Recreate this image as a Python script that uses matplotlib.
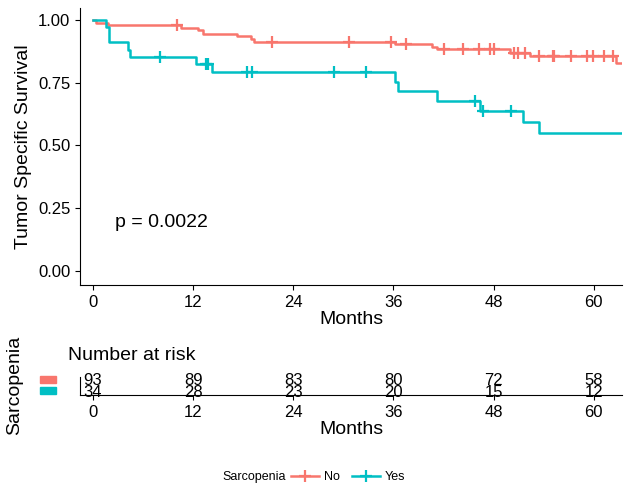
import matplotlib
matplotlib.use("Agg")
import matplotlib.pyplot as plt
from matplotlib.lines import Line2D

plt.rcParams["font.family"] = ["Liberation Sans", "DejaVu Sans"]

RED = "#F8766D"
BLUE = "#00BFC4"

# step curves (time of step, survival after step)
no_t = [0, 0.4, 1.75, 10.5, 12.6, 13.2, 17.3, 18.9, 19.3, 36.2, 40.6, 41.2, 50.0, 52.4, 62.7]
no_s = [1.0, 0.99, 0.98, 0.97, 0.96, 0.944, 0.936, 0.926, 0.913, 0.903, 0.894, 0.883, 0.868, 0.855, 0.83]
no_cens_t = [10.1, 21.5, 30.7, 35.7, 37.5, 42.1, 44.3, 46.3, 47.6, 48.0, 50.4, 50.9, 51.8,
             53.5, 55.1, 55.3, 57.3, 59.2, 59.9, 61.2, 62.3]

yes_t = [0, 1.5, 1.97, 4.2, 4.4, 12.4, 14.25, 36.2, 36.6, 41.2, 46.4, 51.5, 53.4]
yes_s = [1.0, 0.971, 0.912, 0.882, 0.853, 0.826, 0.794, 0.754, 0.717, 0.677, 0.637, 0.595, 0.551]
yes_cens_t = [8.0, 13.6, 13.8, 18.4, 19.1, 28.9, 32.7, 45.8, 46.7, 50.1]
t_end = 63.4

risk_times = [0, 12, 24, 36, 48, 60]
risk_no = [93, 89, 83, 80, 72, 58]
risk_yes = [34, 28, 23, 20, 15, 12]


def surv_at(ts, ss, x):
    v = ss[0]
    for t, s in zip(ts, ss):
        if t <= x:
            v = s
    return v


fig = plt.figure(figsize=(6.28, 5.0), dpi=100)
ax = fig.add_axes([80 / 628, 1 - 285 / 500, 542 / 628, 277 / 500])

for ts, ss, cens, col in [(no_t, no_s, no_cens_t, RED), (yes_t, yes_s, yes_cens_t, BLUE)]:
    ax.step(ts + [t_end], ss + [ss[-1]], where="post", color=col, lw=1.8)
    ax.plot(cens, [surv_at(ts, ss, c) for c in cens], "+", color=col, ms=9, mew=1.6)

ax.set_xlim(-1.56, 63.4)
ax.set_ylim(-0.056, 1.048)
ax.set_xticks(risk_times)
ax.set_yticks([0, 0.25, 0.5, 0.75, 1.0])
ax.set_yticklabels(["0.00", "0.25", "0.50", "0.75", "1.00"])
for s in ["top", "right"]:
    ax.spines[s].set_visible(False)
ax.tick_params(labelsize=12, colors="black")
ax.set_xlabel("Months", fontsize=14, labelpad=1)
ax.set_ylabel("Tumor Specific Survival", fontsize=14)
ax.text(2.6, 0.195, "p = 0.0022", fontsize=14, va="center")

# risk table
rt = fig.add_axes([80 / 628, 1 - 395 / 500, 542 / 628, 18 / 500])
rt.set_xlim(-1.56, 63.4)
rt.set_ylim(0, 1)
for t, a, b in zip(risk_times, risk_no, risk_yes):
    rt.text(t, 0.80, str(a), ha="center", va="center", fontsize=12)
    rt.text(t, 0.15, str(b), ha="center", va="center", fontsize=12)
rt.set_yticks([])
rt.set_xticks(risk_times)
for s in ["top", "right"]:
    rt.spines[s].set_visible(False)
rt.tick_params(labelsize=12, colors="black")
rt.set_xlabel("Months", fontsize=14, labelpad=1)
fig.text(68 / 628, 1 - 355 / 500, "Number at risk", fontsize=14, va="center")
fig.text(15 / 628, 1 - 385 / 500, "Sarcopenia", rotation=90, fontsize=14, va="center", ha="center")
fig.patches.append(plt.Rectangle((40 / 628, 1 - 383 / 500), 16 / 628, 7 / 500,
                                 transform=fig.transFigure, color=RED))
fig.patches.append(plt.Rectangle((40 / 628, 1 - 394 / 500), 16 / 628, 7 / 500,
                                 transform=fig.transFigure, color=BLUE))

handles = [Line2D([], [], color=RED, marker="+", ms=9, mew=1.6, lw=1.8),
           Line2D([], [], color=BLUE, marker="+", ms=9, mew=1.6, lw=1.8)]
fig.text(222 / 628, 1 - 477 / 500, "Sarcopenia", fontsize=9, va="center")
fig.legend(handles, ["No", "Yes"], loc="center left", bbox_to_anchor=(280 / 628, 1 - 477 / 500),
           ncol=2, frameon=False, fontsize=9, handlelength=2.2, columnspacing=1.0, handletextpad=0.4)

fig.savefig("out.png", dpi=100)
